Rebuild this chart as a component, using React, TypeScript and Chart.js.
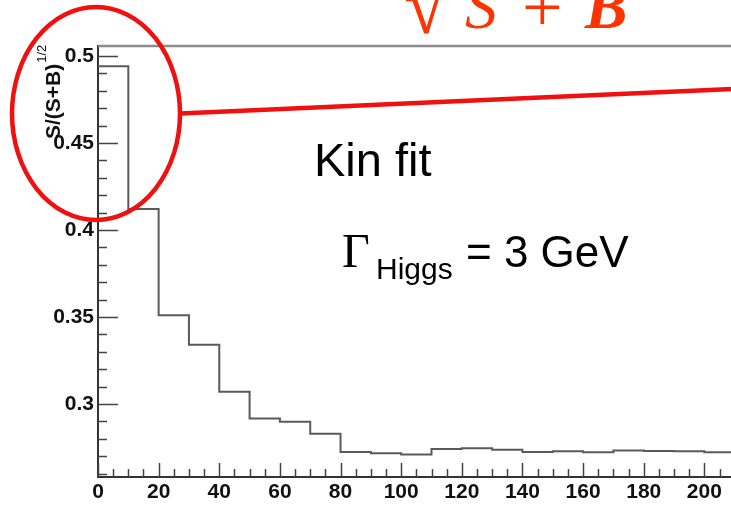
import React, { useEffect, useRef } from "react";
import { Chart, registerables } from "chart.js";

Chart.register(...registerables);

// ---- data ----
const binEdges = [0, 10, 20, 30, 40, 50, 60, 70, 80, 90, 100, 110, 120, 130, 140, 150, 160, 170, 180, 190, 200, 210];
const sOverSqrtSB = [
  0.494, 0.412, 0.351, 0.334, 0.307, 0.2916, 0.2898, 0.2828, 0.2724, 0.2717,
  0.2709, 0.2741, 0.2745, 0.2736, 0.2724, 0.2728, 0.2722, 0.2732, 0.273, 0.2728, 0.2722,
];
const xMajorTicks = [0, 20, 40, 60, 80, 100, 120, 140, 160, 180, 200, 220];
const xTickLabels = ["0", "20", "40", "60", "80", "100", "120", "140", "160", "180", "200", "220"];
const yMajorTicks = [0.3, 0.35, 0.4, 0.45, 0.5];
const yTickLabels = ["0.3", "0.35", "0.4", "0.45", "0.5"];
const xMin = 0;
const xMax = 220;
const yMin = 0.258;
const yMax = 0.5057;
const xMinorStep = 5;
const yMinorStep = 0.01;
const yAxisTitle = "S/(S+B)";
const yAxisTitleSup = "1/2";
const noteKinFit = "Kin fit";
const noteGamma = "Γ";
const noteGammaSub = "Higgs";
const noteGammaValue = "= 3 GeV";

const SANS = "'Liberation Sans', Arial, Helvetica, sans-serif";
const SERIF = "'Liberation Serif', 'Times New Roman', serif";

const decorPlugin = {
  id: "decor",
  afterDatasetsDraw(chart: any) {
    const { ctx, chartArea: a, scales } = chart;
    const x = scales.x;
    const y = scales.y;
    ctx.save();
    // top / right frame
    ctx.strokeStyle = "#8c8c8c";
    ctx.lineWidth = 2.5;
    ctx.beginPath();
    ctx.moveTo(a.left, a.top);
    ctx.lineTo(a.right, a.top);
    ctx.lineTo(a.right, a.bottom);
    ctx.stroke();

    // inward ticks
    ctx.strokeStyle = "#444";
    ctx.lineWidth = 1.5;
    ctx.beginPath();
    const nx = Math.round((xMax - xMin) / xMinorStep);
    for (let k = 0; k <= nx; k++) {
      const v = xMin + k * xMinorStep;
      const px = Math.round(x.getPixelForValue(v)) + 0.5;
      const major = xMajorTicks.indexOf(v) >= 0;
      const len = major ? 14 : 8;
      ctx.moveTo(px, a.bottom);
      ctx.lineTo(px, a.bottom - len);
    }
    const y0 = Math.ceil(yMin / yMinorStep - 1e-9);
    const y1 = Math.floor(yMax / yMinorStep + 1e-9);
    for (let k = y0; k <= y1; k++) {
      const v = k * yMinorStep;
      const py = Math.round(y.getPixelForValue(v)) + 0.5;
      const major = yMajorTicks.some((t) => Math.abs(t - v) < 1e-6);
      const len = major ? 20 : 9;
      ctx.moveTo(a.left, py);
      ctx.lineTo(a.left + len, py);
    }
    ctx.stroke();
    ctx.restore();
  },
  afterDraw(chart: any) {
    const { ctx } = chart;
    ctx.save();
    // y axis title (rotated)
    ctx.fillStyle = "#111";
    ctx.translate(60, 139);
    ctx.rotate(-Math.PI / 2);
    ctx.textAlign = "left";
    ctx.textBaseline = "alphabetic";
    ctx.font = `bold 21px ${SANS}`;
    ctx.fillText(yAxisTitle, 0, 0);
    const w = ctx.measureText(yAxisTitle).width;
    ctx.font = `13px ${SANS}`;
    ctx.fillText(yAxisTitleSup, w + 1, -14);
    ctx.restore();

    ctx.save();
    // notes
    ctx.fillStyle = "#000";
    ctx.textBaseline = "alphabetic";
    ctx.textAlign = "left";
    ctx.font = `47px ${SANS}`;
    ctx.fillText(noteKinFit, 314, 176);
    ctx.font = `48px ${SERIF}`;
    ctx.fillText(noteGamma, 342, 267);
    ctx.font = `30px ${SANS}`;
    ctx.fillText(noteGammaSub, 376, 279);
    ctx.font = `44px ${SANS}`;
    ctx.fillText(noteGammaValue, 466, 267);

    // formula fragment at top (cut off)
    ctx.fillStyle = "#ff3300";
    ctx.font = `80px ${SERIF}`;
    ctx.fillText("√", 404, 33);
    ctx.font = `italic 64px ${SERIF}`;
    ctx.fillText("S", 465, 28);
    ctx.font = `72px ${SERIF}`;
    ctx.fillText("+", 522, 31);
    ctx.font = `bold italic 64px ${SERIF}`;
    ctx.fillText("B", 585, 28);

    // red ellipse and pointer line
    ctx.strokeStyle = "#f01010";
    ctx.lineWidth = 4.5;
    ctx.beginPath();
    ctx.ellipse(96, 113.5, 84, 106.5, 0, 0, Math.PI * 2);
    ctx.stroke();
    ctx.beginPath();
    ctx.moveTo(180, 113.5);
    ctx.lineTo(800, 86);
    ctx.stroke();
    ctx.restore();
  },
};

export default function App() {
  const ref = useRef<HTMLCanvasElement | null>(null);
  useEffect(() => {
    if (!ref.current) return;
    const pts = sOverSqrtSB.map((v, i) => ({ x: binEdges[i], y: v }));
    pts.push({ x: binEdges[sOverSqrtSB.length], y: sOverSqrtSB[sOverSqrtSB.length - 1] });
    const chart = new Chart(ref.current, {
      type: "line",
      data: {
        datasets: [
          {
            data: pts,
            stepped: "before",
            borderColor: "#5a5a5a",
            borderWidth: 2,
            pointRadius: 0,
            fill: false,
          },
        ],
      },
      options: {
        responsive: false,
        animation: false,
        layout: { padding: { left: 8, top: 46, right: 35, bottom: 0 } },
        plugins: { legend: { display: false }, tooltip: { enabled: false } },
        scales: {
          x: {
            type: "linear",
            min: xMin,
            max: xMax,
            grid: { display: false, drawTicks: false },
            border: { display: true, color: "#333", width: 2 },
            afterBuildTicks: (s: any) => {
              s.ticks = xMajorTicks.map((v) => ({ value: v }));
            },
            afterFit: (s: any) => {
              s.height = 29;
            },
            ticks: {
              padding: 3,
              maxRotation: 0,
              autoSkip: false,
              color: "#111",
              font: { family: SANS, size: 21, weight: "bold" },
              callback: (_v: any, i: number) => xTickLabels[i],
            },
          },
          y: {
            type: "linear",
            min: yMin,
            max: yMax,
            grid: { display: false, drawTicks: false },
            border: { display: true, color: "#333", width: 2 },
            afterBuildTicks: (s: any) => {
              s.ticks = yMajorTicks.map((v) => ({ value: v }));
            },
            afterFit: (s: any) => {
              s.width = 90;
            },
            ticks: {
              padding: 4,
              autoSkip: false,
              color: "#111",
              font: { family: SANS, size: 21, weight: "bold" },
              callback: (_v: any, i: number) => yTickLabels[i],
            },
          },
        },
      },
      plugins: [decorPlugin],
    });
    return () => chart.destroy();
  }, []);
  return (
    <div
      style={{
        position: "absolute",
        left: 0,
        top: 0,
        width: 731,
        height: 506,
        overflow: "hidden",
        background: "#fff",
      }}
    >
      <canvas ref={ref} width={800} height={506} style={{ display: "block" }} />
    </div>
  );
}
